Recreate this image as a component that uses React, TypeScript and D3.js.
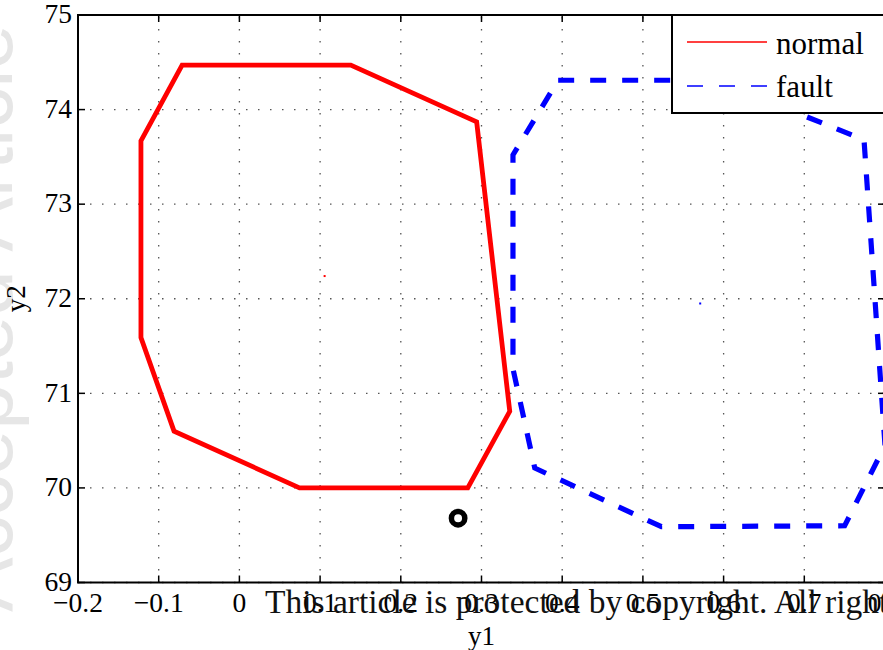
import React from "react";
import * as d3 from "d3";

const xTicks = [-0.2, -0.1, 0, 0.1, 0.2, 0.3, 0.4, 0.5, 0.6, 0.7, 0.8];
const yTicks = [69, 70, 71, 72, 73, 74, 75];

const normalY1 = [-0.122, -0.071, 0.138, 0.294, 0.335, 0.283, 0.0745, -0.081, -0.122];
const normalY2 = [73.67, 74.47, 74.47, 73.87, 70.81, 70.0, 70.0, 70.6, 71.59];

const faultY1 = [0.395, 0.59, 0.774, 0.8, 0.75, 0.523, 0.366, 0.339, 0.339];
const faultY2 = [74.31, 74.31, 73.68, 70.45, 69.6, 69.59, 70.21, 71.26, 73.52];

const centerY1 = [0.1056, 0.571];
const centerY2 = [72.24, 71.95];
const centerColors = ["#ff0000", "#0000ff"];

const testY1 = [0.271];
const testY2 = [69.68];

const legendLabels = ["normal", "fault"];

const W = 883;
const H = 650;
const L = 78;
const R = 885;
const T = 15;
const B = 582.5;
const SERIF = "'Liberation Serif', 'Times New Roman', serif";

export default function App() {
  const x = d3.scaleLinear().domain([-0.2, 0.8]).range([L, R]);
  const y = d3.scaleLinear().domain([69, 75]).range([B, T]);
  const line = d3
    .line<[number, number]>()
    .x((d) => x(d[0]))
    .y((d) => y(d[1]))
    .curve(d3.curveLinearClosed);
  const normalPts = normalY1.map((v, i) => [v, normalY2[i]] as [number, number]);
  const faultPts = faultY1.map((v, i) => [v, faultY2[i]] as [number, number]);
  const fmt = (v: number) => (v < 0 ? "\u2212" + Math.abs(v) : String(v));

  return (
    <svg
      width={W}
      height={H}
      style={{ position: "absolute", left: 0, top: 0, background: "#fff" }}
      fontFamily={SERIF}
    >
      <defs>
        <clipPath id="plotclip">
          <rect x={L} y={T} width={R - L} height={B - T} />
        </clipPath>
      </defs>
      <rect x={0} y={0} width={W} height={H} fill="#fff" />
      {/* left watermark */}
      <text
        transform={`translate(12,612) rotate(-90)`}
        fontFamily="'Liberation Sans', Arial, sans-serif"
        fontSize={82}
        fill="#e6e6e6"
      >
        Accepted Article
      </text>
      {/* grid */}
      <g stroke="#555" strokeWidth={1.3} strokeDasharray="1.5 10.5">
        {xTicks.map((t) => (
          <line key={"gx" + t} x1={x(t)} x2={x(t)} y1={B} y2={T} />
        ))}
        {yTicks.map((t) => (
          <line key={"gy" + t} x1={L} x2={R} y1={y(t)} y2={y(t)} />
        ))}
      </g>
      {/* data */}
      <g clipPath="url(#plotclip)">
        <path d={line(normalPts) || ""} fill="none" stroke="#ff0000" strokeWidth={4.8} strokeLinejoin="miter" />
        <path
          d={line(faultPts) || ""}
          fill="none"
          stroke="#0000ff"
          strokeWidth={5.2}
          strokeDasharray="16 16"
        />
        {centerY1.map((v, i) => (
          <rect key={"c" + i} x={x(v) - 1} y={y(centerY2[i]) - 1} width={2} height={2} fill={centerColors[i]} />
        ))}
      </g>
      {testY1.map((v, i) => (
        <circle key={"t" + i} cx={x(v)} cy={y(testY2[i])} r={6.7} fill="none" stroke="#000" strokeWidth={5.5} />
      ))}
      {/* axes box */}
      <rect x={L} y={T} width={R - L} height={B - T} fill="none" stroke="#000" strokeWidth={2} />
      <g stroke="#000" strokeWidth={1.5}>
        {xTicks.map((t) => (
          <g key={"tx" + t}>
            <line x1={x(t)} x2={x(t)} y1={B} y2={B - 7} />
            <line x1={x(t)} x2={x(t)} y1={T} y2={T + 7} />
          </g>
        ))}
        {yTicks.map((t) => (
          <g key={"ty" + t}>
            <line x1={L} x2={L + 7} y1={y(t)} y2={y(t)} />
            <line x1={R} x2={R - 7} y1={y(t)} y2={y(t)} />
          </g>
        ))}
      </g>
      {/* tick labels */}
      <g fontSize={27.5} fill="#000">
        {xTicks.map((t) => (
          <text key={"lx" + t} x={x(t)} y={612} textAnchor="middle">
            {fmt(t)}
          </text>
        ))}
        {yTicks.map((t) => (
          <text key={"ly" + t} x={72} y={y(t)} dy="0.3em" textAnchor="end">
            {fmt(t)}
          </text>
        ))}
      </g>
      <text x={x(0.3)} y={645} fontSize={27} textAnchor="middle">
        y1
      </text>
      <text transform={`translate(25,${y(72)}) rotate(-90)`} fontSize={27} textAnchor="middle">
        y2
      </text>
      {/* legend */}
      <rect x={672} y={15} width={240} height={98} fill="#fff" stroke="#000" strokeWidth={2} />
      <line x1={687} x2={767} y1={42} y2={42} stroke="#ff0000" strokeWidth={1.5} />
      <line x1={687} x2={767} y1={86} y2={86} stroke="#0000ff" strokeWidth={1.5} strokeDasharray="16 16" />
      <text x={776} y={54} fontSize={31}>
        {legendLabels[0]}
      </text>
      <text x={776} y={97} fontSize={31}>
        {legendLabels[1]}
      </text>
      {/* copyright watermark */}
      <text x={265} y={613} fontSize={33.5} fill="#111">
        This article is protected by copyright. All rights reserved
      </text>
    </svg>
  );
}
